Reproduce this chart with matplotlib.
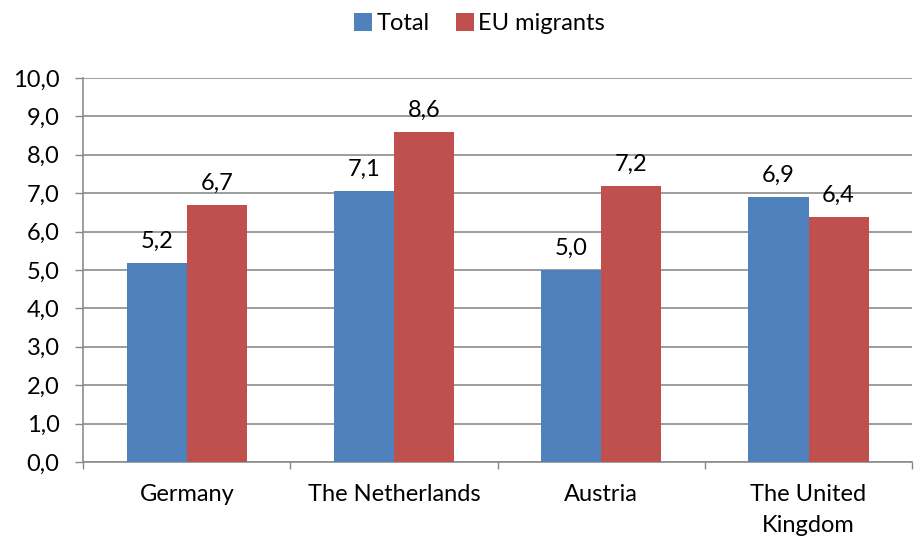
import matplotlib.pyplot as plt
import numpy as np

# данные
countries = ["Germany", "The Netherlands", "Austria", "The United\nKingdom"]
total = [5.18, 7.06, 5.0, 6.90]
eu_migrants = [6.69, 8.59, 7.19, 6.38]
total_labels = ["5,2", "7,1", "5,0", "6,9"]
eu_labels = ["6,7", "8,6", "7,2", "6,4"]

plt.rcParams['font.family'] = ['Lato', 'DejaVu Sans']
fs = 17

fig = plt.figure(figsize=(9.14, 5.4), dpi=100)
ax = fig.add_axes([0.091, 0.1444, 0.907, 0.7112])

x = np.arange(len(countries))
w = 0.29
b1 = ax.bar(x - w / 2, total, w, color="#4F81BD", label="Total", zorder=3)
b2 = ax.bar(x + w / 2, eu_migrants, w, color="#C0504D", label="EU migrants", zorder=3)

# подписи значений над столбцами
for bars, labels in ((b1, total_labels), (b2, eu_labels)):
    for bar, lab in zip(bars, labels):
        ax.annotate(lab, (bar.get_x() + bar.get_width() / 2, bar.get_height()),
                    xytext=(0, 8), textcoords="offset points",
                    ha="center", va="bottom", fontsize=fs)

ax.set_ylim(0, 10)
ax.set_xlim(-0.5, 3.5)
ax.set_yticks(np.arange(0, 10.5, 1))
ax.set_yticklabels([f"{v:.1f}".replace(".", ",") for v in np.arange(0, 10.5, 1)], fontsize=fs)
ax.set_xticks(x)
ax.set_xticklabels(countries, fontsize=fs, va="top", linespacing=1.6)
ax.set_xticks(np.arange(-0.5, 4, 1), minor=True)
ax.tick_params(axis="x", which="major", length=0, pad=16)
ax.tick_params(axis="x", which="minor", length=5, color="#888888", width=1)
ax.tick_params(axis="y", length=6, color="#888888", width=1, pad=11)

ax.grid(axis="y", color="#8c8c8c", linewidth=1.2, zorder=0)
for s in ("top", "right"):
    ax.spines[s].set_visible(False)
for s in ("left", "bottom"):
    ax.spines[s].set_color("#8c8c8c")
    ax.spines[s].set_linewidth(1.2)

fig.legend(loc="upper center", bbox_to_anchor=(0.525, 1.015), ncol=2, frameon=False,
           fontsize=fs, handlelength=0.75, handleheight=0.75, handletextpad=0.2,
           columnspacing=1.1)

fig.savefig("out.png", dpi=100)
